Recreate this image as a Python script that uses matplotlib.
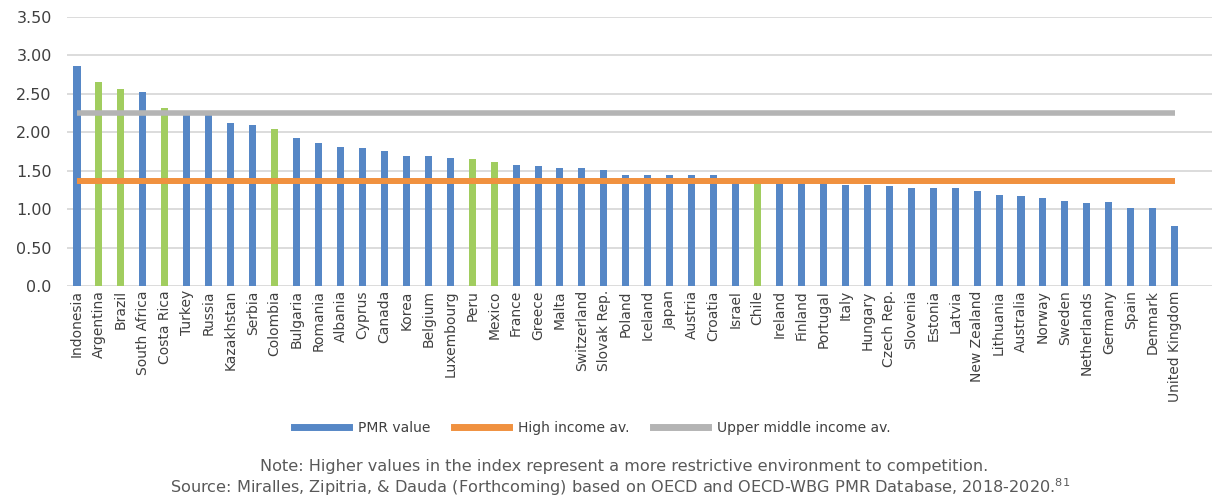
import numpy as np
import matplotlib.pyplot as plt
from matplotlib.lines import Line2D

# --- datos ---
countries = ['Indonesia', 'Argentina', 'Brazil', 'South Africa', 'Costa Rica', 'Turkey',
             'Russia', 'Kazakhstan', 'Serbia', 'Colombia', 'Bulgaria', 'Romania', 'Albania',
             'Cyprus', 'Canada', 'Korea', 'Belgium', 'Luxembourg', 'Peru', 'Mexico', 'France',
             'Greece', 'Malta', 'Switzerland', 'Slovak Rep.', 'Poland', 'Iceland', 'Japan',
             'Austria', 'Croatia', 'Israel', 'Chile', 'Ireland', 'Finland', 'Portugal', 'Italy',
             'Hungary', 'Czech Rep.', 'Slovenia', 'Estonia', 'Latvia', 'New Zealand',
             'Lithuania', 'Australia', 'Norway', 'Sweden', 'Netherlands', 'Germany', 'Spain',
             'Denmark', 'United Kingdom']
pmr = [2.86, 2.65, 2.56, 2.52, 2.31, 2.24, 2.23, 2.12, 2.10, 2.04, 1.92, 1.86, 1.81,
       1.79, 1.75, 1.69, 1.69, 1.66, 1.65, 1.61, 1.57, 1.56, 1.53, 1.53, 1.51, 1.44, 1.44,
       1.44, 1.44, 1.44, 1.37, 1.37, 1.36, 1.35, 1.35, 1.32, 1.32, 1.30, 1.27, 1.28, 1.28,
       1.23, 1.18, 1.17, 1.14, 1.10, 1.08, 1.09, 1.02, 1.02, 0.78]
highlighted = ['Argentina', 'Brazil', 'Costa Rica', 'Colombia', 'Peru', 'Mexico', 'Chile']
high_income_av = 1.37
upper_middle_av = 2.25
yticks = [0.0, 0.5, 1.0, 1.5, 2.0, 2.5, 3.0, 3.5]
ytick_labels = ['0.0', '0.50', '1.00', '1.50', '2.00', '2.50', '3.00', '3.50']

BLUE, GREEN, ORANGE, GREY = '#5687c6', '#a1cd5f', '#f0913f', '#b4b4b4'
TXT = '#404040'

fig = plt.figure(figsize=(12.12, 4.97), dpi=100)
ax = fig.add_axes([0.0553, 0.4245, 0.9447, 0.5415])

x = np.arange(len(countries))
colors = [GREEN if c in highlighted else BLUE for c in countries]
ax.bar(x, pmr, width=0.32, color=colors, zorder=2)
ax.plot([x[0], x[-1]], [high_income_av] * 2, color=ORANGE, lw=4.3,
        solid_capstyle='butt', zorder=3)
ax.plot([x[0], x[-1]], [upper_middle_av] * 2, color=GREY, lw=4.0,
        solid_capstyle='butt', zorder=3)

ax.set_ylim(0, 3.5)
ax.set_xlim(-0.455, 51.7)
ax.set_yticks(yticks)
ax.set_yticklabels(ytick_labels, fontsize=11.5, color=TXT)
ax.set_xticks(x)
ax.set_xticklabels(countries, rotation=90, fontsize=10, color=TXT)
ax.tick_params(axis='both', length=0)
ax.tick_params(axis='y', pad=11)
ax.tick_params(axis='x', pad=3)
ax.grid(axis='y', color='#d9d9d9', lw=1.3, zorder=0)
ax.set_axisbelow(True)
for s in ax.spines.values():
    s.set_visible(False)

# --- leyenda ---
handles = [Line2D([], [], color=BLUE, lw=5),
           Line2D([], [], color=ORANGE, lw=5),
           Line2D([], [], color=GREY, lw=5)]
fig.legend(handles, ['PMR value', 'High income av.', 'Upper middle income av.'],
           loc='center', bbox_to_anchor=(0.489, 0.139), ncol=3, frameon=False,
           fontsize=10, handlelength=3.9, columnspacing=1.7, handletextpad=0.7,
           labelcolor=TXT)

# --- notas ---
fig.text(0.515, 0.062,
         'Note: Higher values in the index represent a more restrictive environment to competition.',
         ha='center', va='center', fontsize=11.6, color='#595959')
fig.text(0.512, 0.020,
         'Source: Miralles, Zipitria, & Dauda (Forthcoming) based on OECD and OECD-WBG PMR '
         'Database, 2018-2020.$^{81}$',
         ha='center', va='center', fontsize=11.6, color='#595959')

fig.savefig('out.png', dpi=100)
